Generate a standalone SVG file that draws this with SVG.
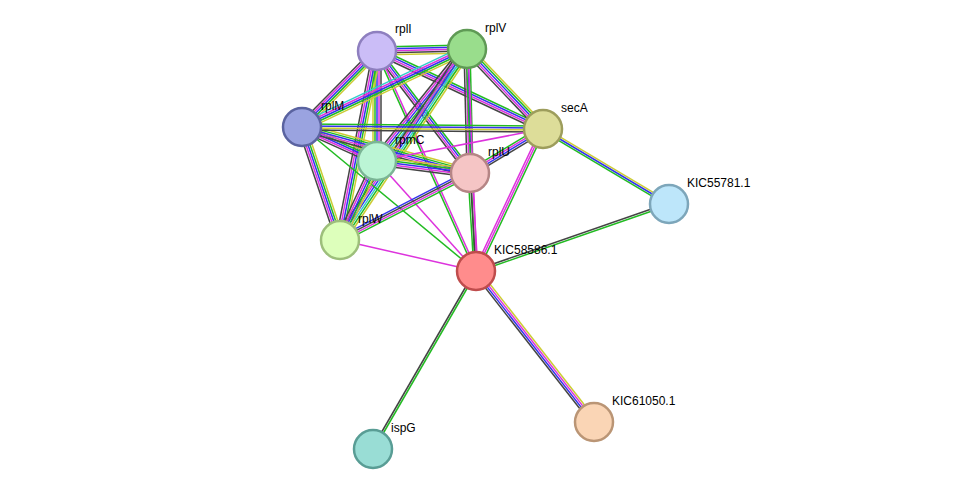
<svg xmlns="http://www.w3.org/2000/svg" xmlns:xlink="http://www.w3.org/1999/xlink" width="976" height="495" viewBox="0 0 976 495">
<style>
.g{stroke:#22bb22}.b{stroke:#3333ee}.m{stroke:#dd33dd}.y{stroke:#cccc33}.k{stroke:#444444}.c{stroke:#33cccc}
#edges use,#edges line{stroke-width:1.5;fill:none}
.n{stroke-width:2.5}
text{font-family:"Liberation Sans",Arial,sans-serif;font-size:12px;fill:#000}
</style>
<defs>
<line id="e1" x1="377" y1="51" x2="467" y2="49"/>
<line id="e2" x1="377" y1="51" x2="302" y2="127"/>
<line id="e3" x1="377" y1="51" x2="377" y2="161"/>
<line id="e4" x1="377" y1="51" x2="470" y2="173"/>
<line id="e5" x1="377" y1="51" x2="340" y2="240"/>
<line id="e6" x1="377" y1="51" x2="543" y2="129"/>
<line id="e7" x1="377" y1="51" x2="476" y2="271"/>
<line id="e8" x1="467" y1="49" x2="302" y2="127"/>
<line id="e9" x1="467" y1="49" x2="377" y2="161"/>
<line id="e10" x1="467" y1="49" x2="470" y2="173"/>
<line id="e11" x1="467" y1="49" x2="340" y2="240"/>
<line id="e12" x1="467" y1="49" x2="543" y2="129"/>
<line id="e13" x1="467" y1="49" x2="476" y2="271"/>
<line id="e14" x1="302" y1="127" x2="377" y2="161"/>
<line id="e15" x1="302" y1="127" x2="470" y2="173"/>
<line id="e16" x1="302" y1="127" x2="340" y2="240"/>
<line id="e17" x1="302" y1="127" x2="543" y2="129"/>
<line id="e19" x1="377" y1="161" x2="470" y2="173"/>
<line id="e20" x1="377" y1="161" x2="340" y2="240"/>
<line id="e23" x1="470" y1="173" x2="340" y2="240"/>
<line id="e24" x1="470" y1="173" x2="543" y2="129"/>
<line id="e25" x1="470" y1="173" x2="476" y2="271"/>
<line id="e27" x1="543" y1="129" x2="476" y2="271"/>
<line id="e28" x1="543" y1="129" x2="669" y2="204"/>
<line id="e29" x1="669" y1="204" x2="476" y2="271"/>
<line id="e30" x1="476" y1="271" x2="373" y2="449"/>
<line id="e31" x1="476" y1="271" x2="594" y2="422"/>
</defs>
<g id="edges">
<use href="#e1" class="g" transform="translate(0,-4)"/><use href="#e1" class="b" transform="translate(0,-2)"/><use href="#e1" class="m"/><use href="#e1" class="k" transform="translate(0,2)"/><use href="#e1" class="y" transform="translate(0,4)"/>
<use href="#e2" class="y" transform="translate(2.8,2.8)"/><use href="#e2" class="g" transform="translate(1.4,1.4)"/><use href="#e2" class="b"/><use href="#e2" class="m" transform="translate(-1.4,-1.4)"/><use href="#e2" class="k" transform="translate(-2.8,-2.8)"/>
<use href="#e3" class="y" transform="translate(-4,0)"/><use href="#e3" class="g" transform="translate(-2,0)"/><use href="#e3" class="b"/><use href="#e3" class="m" transform="translate(2,0)"/><use href="#e3" class="k" transform="translate(4,0)"/>
<use href="#e4" class="g" transform="translate(2.4,-1.8)"/><use href="#e4" class="b" transform="translate(0.8,-0.6)"/><use href="#e4" class="m" transform="translate(-0.8,0.6)"/><use href="#e4" class="k" transform="translate(-2.4,1.8)"/>
<use href="#e5" class="y" transform="translate(4,0.8)"/><use href="#e5" class="g" transform="translate(2,0.4)"/><use href="#e5" class="b"/><use href="#e5" class="m" transform="translate(-2,-0.4)"/><use href="#e5" class="k" transform="translate(-4,-0.8)"/>
<use href="#e6" class="g" transform="translate(1.35,-2.7)"/><use href="#e6" class="b" transform="translate(0.45,-0.9)"/><use href="#e6" class="m" transform="translate(-0.45,0.9)"/><use href="#e6" class="k" transform="translate(-1.35,2.7)"/>
<use href="#e7" class="m" transform="translate(0.9,-0.4)"/><use href="#e7" class="g" transform="translate(-0.9,0.4)"/>
<use href="#e8" class="y" transform="translate(1.8,3.6)"/><use href="#e8" class="g" transform="translate(0.9,1.8)"/><use href="#e8" class="b"/><use href="#e8" class="m" transform="translate(-0.9,-1.8)"/><use href="#e8" class="c" transform="translate(-1.8,-3.6)"/>
<use href="#e9" class="y" transform="translate(4,3.25)"/><use href="#e9" class="c" transform="translate(2.4,1.95)"/><use href="#e9" class="g" transform="translate(0.8,0.65)"/><use href="#e9" class="b" transform="translate(-0.8,-0.65)"/><use href="#e9" class="m" transform="translate(-2.4,-1.95)"/><use href="#e9" class="k" transform="translate(-4,-3.25)"/>
<use href="#e10" class="g" transform="translate(3,0)"/><use href="#e10" class="b" transform="translate(1,0)"/><use href="#e10" class="m" transform="translate(-1,0)"/><use href="#e10" class="k" transform="translate(-3,0)"/>
<use href="#e11" class="y" transform="translate(4.25,2.75)"/><use href="#e11" class="g" transform="translate(2.55,1.65)"/><use href="#e11" class="c" transform="translate(0.85,0.55)"/><use href="#e11" class="b" transform="translate(-0.85,-0.55)"/><use href="#e11" class="m" transform="translate(-2.55,-1.65)"/><use href="#e11" class="k" transform="translate(-4.25,-2.75)"/>
<use href="#e12" class="y" transform="translate(3,-2.8)"/><use href="#e12" class="g" transform="translate(1.5,-1.4)"/><use href="#e12" class="b"/><use href="#e12" class="m" transform="translate(-1.5,1.4)"/><use href="#e12" class="k" transform="translate(-3,2.8)"/>
<use href="#e13" class="m" transform="translate(1,0)"/><use href="#e13" class="g" transform="translate(-1,0)"/>
<use href="#e14" class="y" transform="translate(1.6,-3.6)"/><use href="#e14" class="g" transform="translate(0.8,-1.8)"/><use href="#e14" class="b"/><use href="#e14" class="m" transform="translate(-0.8,1.8)"/><use href="#e14" class="k" transform="translate(-1.6,3.6)"/>
<use href="#e15" class="y" transform="translate(1,-3.8)"/><use href="#e15" class="g" transform="translate(0.5,-1.9)"/><use href="#e15" class="b"/><use href="#e15" class="m" transform="translate(-0.5,1.9)"/><use href="#e15" class="k" transform="translate(-1,3.8)"/>
<use href="#e16" class="y" transform="translate(3.8,-1.2)"/><use href="#e16" class="g" transform="translate(1.9,-0.6)"/><use href="#e16" class="b"/><use href="#e16" class="m" transform="translate(-1.9,0.6)"/><use href="#e16" class="k" transform="translate(-3.8,1.2)"/>
<use href="#e17" class="g" transform="translate(0,-3)"/><use href="#e17" class="b" transform="translate(0,-1)"/><use href="#e17" class="y" transform="translate(0,1)"/><use href="#e17" class="k" transform="translate(0,3)"/>
<line class="g" x1="302" y1="127" x2="476" y2="271"/>
<use href="#e19" class="y" transform="translate(0.6,-4)"/><use href="#e19" class="g" transform="translate(0.3,-2)"/><use href="#e19" class="b"/><use href="#e19" class="m" transform="translate(-0.3,2)"/><use href="#e19" class="k" transform="translate(-0.6,4)"/>
<use href="#e20" class="y" transform="translate(3.6,1.8)"/><use href="#e20" class="g" transform="translate(1.8,0.9)"/><use href="#e20" class="b"/><use href="#e20" class="m" transform="translate(-1.8,-0.9)"/><use href="#e20" class="k" transform="translate(-3.6,-1.8)"/>
<line class="m" x1="377" y1="161" x2="543" y2="129"/>
<line class="m" x1="377" y1="161" x2="476" y2="271"/>
<use href="#e23" class="g" transform="translate(1.35,2.7)"/><use href="#e23" class="m" transform="translate(0.45,0.9)"/><use href="#e23" class="k" transform="translate(-0.45,-0.9)"/><use href="#e23" class="b" transform="translate(-1.35,-2.7)"/>
<use href="#e24" class="g" transform="translate(-1.5,-2.55)"/><use href="#e24" class="m" transform="translate(-0.5,-0.85)"/><use href="#e24" class="b" transform="translate(0.5,0.85)"/><use href="#e24" class="k" transform="translate(1.5,2.55)"/>
<use href="#e25" class="m" transform="translate(2,0)"/><use href="#e25" class="k"/><use href="#e25" class="g" transform="translate(-2,0)"/>
<line class="m" x1="340" y1="240" x2="476" y2="271"/>
<use href="#e27" class="g" transform="translate(1.8,0.9)"/><use href="#e27" class="m"/><use href="#e27" class="m" transform="translate(-1.8,-0.9)"/>
<use href="#e28" class="y" transform="translate(1,-1.7)"/><use href="#e28" class="b"/><use href="#e28" class="g" transform="translate(-1,1.7)"/>
<use href="#e29" class="g" transform="translate(0.35,0.95)"/><use href="#e29" class="k" transform="translate(-0.35,-0.95)"/>
<use href="#e30" class="g" transform="translate(0.85,0.5)"/><use href="#e30" class="k" transform="translate(-0.85,-0.5)"/>
<use href="#e31" class="y" transform="translate(2.4,-1.8)"/><use href="#e31" class="m" transform="translate(0.8,-0.6)"/><use href="#e31" class="b" transform="translate(-0.8,0.6)"/><use href="#e31" class="k" transform="translate(-2.4,1.8)"/>
</g>
<g id="rplI"><circle class="n" cx="377" cy="51" r="19" fill="#cbbdf7" stroke="#8e7fbf"/><text x="395" y="33">rplI</text></g>
<g id="rplV"><circle class="n" cx="467" cy="49" r="19" fill="#99dd8c" stroke="#5f9a55"/><text x="485" y="32">rplV</text></g>
<g id="rplM"><circle class="n" cx="302" cy="127" r="19" fill="#9aa3e0" stroke="#5a63a0"/><text x="321" y="110">rplM</text></g>
<g id="secA"><circle class="n" cx="543" cy="129" r="19" fill="#dddd99" stroke="#9d9d5c"/><text x="561" y="112">secA</text></g>
<g id="rpmC"><circle class="n" cx="377" cy="161" r="19" fill="#bbf5d5" stroke="#7bb595"/><text x="395" y="144">rpmC</text></g>
<g id="rplU"><circle class="n" cx="470" cy="173" r="19" fill="#f5c5c5" stroke="#b58585"/><text x="488" y="156">rplU</text></g>
<g id="rplW"><circle class="n" cx="340" cy="240" r="19" fill="#ddffbb" stroke="#9dbf7b"/><text x="358" y="223">rplW</text></g>
<g id="KIC55781.1"><circle class="n" cx="669" cy="204" r="19" fill="#bde6fa" stroke="#7da6ba"/><text x="687" y="187">KIC55781.1</text></g>
<g id="KIC58586.1"><circle class="n" cx="476" cy="271" r="19" fill="#ff8c8c" stroke="#bf4c4c"/><text x="494" y="254">KIC58586.1</text></g>
<g id="ispG"><circle class="n" cx="373" cy="449" r="19" fill="#99ddd5" stroke="#599d95"/><text x="391" y="432">ispG</text></g>
<g id="KIC61050.1"><circle class="n" cx="594" cy="422" r="19" fill="#fad5b5" stroke="#ba9575"/><text x="612" y="405">KIC61050.1</text></g>
</svg>
